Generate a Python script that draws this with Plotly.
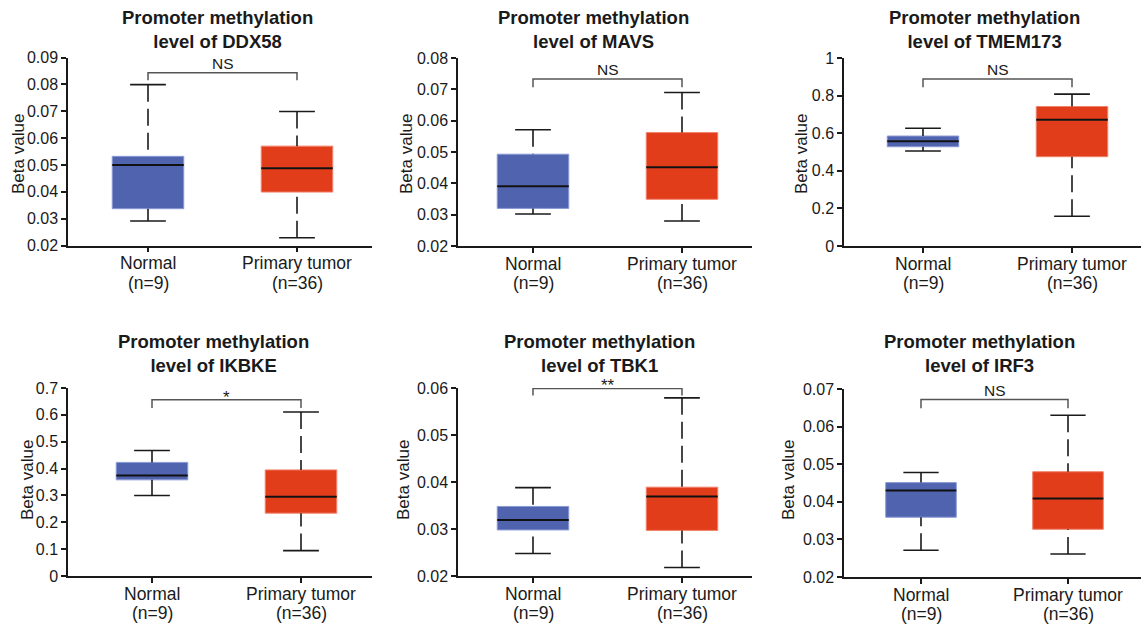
import plotly.graph_objects as go

W, H = 1141, 628

genes = ["DDX58", "MAVS", "TMEM173", "IKBKE", "TBK1", "IRF3"]
groups = ["Normal", "Primary tumor"]
group_n = ["(n=9)", "(n=36)"]
significance = ["NS", "NS", "NS", "*", "**", "NS"]

# per gene: [Normal, Primary tumor]
lower_whisker = [[0.0291, 0.0229], [0.0302, 0.0280], [0.505, 0.158],
                 [0.300, 0.0945], [0.0248, 0.0218], [0.0271, 0.0261]]
q1_vals = [[0.0337, 0.0399], [0.0320, 0.0349], [0.528, 0.475],
           [0.358, 0.234], [0.0298, 0.0297], [0.0359, 0.0327]]
median_vals = [[0.0500, 0.0488], [0.0391, 0.0451], [0.557, 0.671],
               [0.374, 0.295], [0.0319, 0.0369], [0.0430, 0.0409]]
q3_vals = [[0.0532, 0.0570], [0.0493, 0.0562], [0.585, 0.742],
           [0.423, 0.395], [0.0348, 0.0389], [0.0451, 0.0480]]
upper_whisker = [[0.0799, 0.0699], [0.0571, 0.0690], [0.626, 0.808],
                 [0.4675, 0.6105], [0.0388, 0.0579], [0.0478, 0.0630]]
bracket_top = [0.0843, 0.0733, 0.888, 0.6565, 0.0599, 0.0672]
bracket_leg = [0.0815, 0.0707, 0.845, 0.6254, 0.0584, 0.0649]

y_ticks = [
    [0.02, 0.03, 0.04, 0.05, 0.06, 0.07, 0.08, 0.09],
    [0.02, 0.03, 0.04, 0.05, 0.06, 0.07, 0.08],
    [0, 0.2, 0.4, 0.6, 0.8, 1],
    [0, 0.1, 0.2, 0.3, 0.4, 0.5, 0.6, 0.7],
    [0.02, 0.03, 0.04, 0.05, 0.06],
    [0.02, 0.03, 0.04, 0.05, 0.06, 0.07],
]
y_tick_text = [
    ["0.02", "0.03", "0.04", "0.05", "0.06", "0.07", "0.08", "0.09"],
    ["0.02", "0.03", "0.04", "0.05", "0.06", "0.07", "0.08"],
    ["0", "0.2", "0.4", "0.6", "0.8", "1"],
    ["0", "0.1", "0.2", "0.3", "0.4", "0.5", "0.6", "0.7"],
    ["0.02", "0.03", "0.04", "0.05", "0.06"],
    ["0.02", "0.03", "0.04", "0.05", "0.06", "0.07"],
]

# ---- layout geometry (pixels) ----
# axis left, axis right, normal centre, tumor centre, plot top, plot bottom
panel_px = [
    (68, 372, 148, 297, 57.5, 245.5),
    (458, 752, 533, 682, 58, 246),
    (844, 1141, 923, 1072, 58, 246),
    (68, 372, 152, 301, 388, 576),
    (458, 752, 533, 682, 388, 576),
    (844, 1141, 921, 1068, 389, 577),
]
title_px = [(217, 29), (593, 29), (984, 29), (213, 353), (599, 353), (979, 353)]
ytitle_px = [(18, 154), (406, 154), (801, 154), (27, 480), (403, 480), (788, 480)]
label_offsets = (17.5, 37.0)   # px below the x axis: group name, sample size

fill_colors = ["#4f63ae", "#e23d1b"]
edge_colors = ["#8b9ad6", "#f0826a"]
BOX_W = 0.48
CAP_W = 0.24
FONT = "Liberation Sans, Arial, Helvetica, sans-serif"
INK = "#1a1a1a"

fig = go.Figure()
layout_axes = {}
annotations = []

for p, gene in enumerate(genes):
    ax = "" if p == 0 else str(p + 1)
    xa, ya = "x" + ax, "y" + ax
    left, right, cn, ct, top, bot = panel_px[p]
    unit = ct - cn
    xr = [(left - cn) / unit, 1 + (right - ct) / unit]
    ymin, ymax = y_ticks[p][0], y_ticks[p][-1]

    for g in range(2):
        # box body
        fig.add_trace(go.Box(
            x=[g], q1=[q1_vals[p][g]], median=[median_vals[p][g]], q3=[q3_vals[p][g]],
            lowerfence=[q1_vals[p][g]], upperfence=[q3_vals[p][g]],
            width=BOX_W, fillcolor=fill_colors[g],
            line=dict(color=edge_colors[g], width=1), whiskerwidth=0,
            boxpoints=False, showlegend=False, hoverinfo="skip",
            xaxis=xa, yaxis=ya,
        ))
        # whiskers (dashed), drawn from cap toward the box
        for a, b in ((upper_whisker[p][g], q3_vals[p][g]), (lower_whisker[p][g], q1_vals[p][g])):
            fig.add_trace(go.Scatter(
                x=[g, g], y=[a, b], mode="lines",
                line=dict(color=INK, width=1.6, dash="17px,7px"),
                showlegend=False, hoverinfo="skip", xaxis=xa, yaxis=ya,
            ))
        # caps
        for v in (upper_whisker[p][g], lower_whisker[p][g]):
            fig.add_trace(go.Scatter(
                x=[g - CAP_W / 2, g + CAP_W / 2], y=[v, v], mode="lines",
                line=dict(color=INK, width=1.6),
                showlegend=False, hoverinfo="skip", xaxis=xa, yaxis=ya,
            ))
        # median
        fig.add_trace(go.Scatter(
            x=[g - BOX_W / 2, g + BOX_W / 2], y=[median_vals[p][g]] * 2, mode="lines",
            line=dict(color="#111111", width=2),
            showlegend=False, hoverinfo="skip", xaxis=xa, yaxis=ya,
        ))

        # category labels under the axis
        for txt, off in ((groups[g], label_offsets[0]), (group_n[g], label_offsets[1])):
            annotations.append(dict(
                x=g, y=0, xref=xa, yref=ya + " domain",
                text=txt, showarrow=False, xanchor="center", yanchor="middle",
                yshift=-off,
                font=dict(family=FONT, size=17.5, color=INK),
            ))

    # significance bracket
    fig.add_trace(go.Scatter(
        x=[0, 0, 1, 1],
        y=[bracket_leg[p], bracket_top[p], bracket_top[p], bracket_leg[p]],
        mode="lines", line=dict(color="#555555", width=1.5),
        showlegend=False, hoverinfo="skip", xaxis=xa, yaxis=ya, cliponaxis=False,
    ))
    star = significance[p] != "NS"
    annotations.append(dict(
        x=0.5, y=bracket_top[p], xref=xa, yref=ya, text=significance[p],
        showarrow=False, xanchor="center", yanchor="bottom",
        yshift=-9 if star else -1,
        font=dict(family=FONT, size=17 if star else 15.5, color=INK),
    ))

    layout_axes["xaxis" + ax] = dict(
        domain=[left / W, min(right / W, 1.0)], range=xr, anchor=ya,
        tickvals=[0, 1], showticklabels=False, automargin=False,
        showline=True, linecolor=INK, linewidth=1.5,
        ticks="outside", ticklen=5, tickwidth=1.5, tickcolor=INK,
        showgrid=False, zeroline=False, fixedrange=True,
    )
    layout_axes["yaxis" + ax] = dict(
        domain=[1 - bot / H, 1 - top / H], range=[ymin, ymax], anchor=xa,
        tickvals=y_ticks[p], ticktext=y_tick_text[p], automargin=False,
        tickfont=dict(family=FONT, size=16, color=INK),
        showline=True, linecolor=INK, linewidth=1.5,
        ticks="outside", ticklen=5, tickwidth=1.5, tickcolor=INK,
        showgrid=False, zeroline=False, fixedrange=True,
    )

    tx, ty = title_px[p]
    annotations.append(dict(
        x=tx / W, y=1 - ty / H, xref="paper", yref="paper",
        text=f"<b>Promoter methylation<br>level of {gene}</b>",
        showarrow=False, xanchor="center", yanchor="middle",
        font=dict(family=FONT, size=18.5, color=INK),
    ))
    yx, yy = ytitle_px[p]
    annotations.append(dict(
        x=yx / W, y=1 - yy / H, xref="paper", yref="paper",
        text="Beta value", textangle=-90,
        showarrow=False, xanchor="center", yanchor="middle",
        font=dict(family=FONT, size=17, color=INK),
    ))

fig.update_layout(
    template="none",
    width=W, height=H,
    margin=dict(l=0, r=0, t=0, b=0, pad=0, autoexpand=False),
    paper_bgcolor="white", plot_bgcolor="white",
    showlegend=False,
    annotations=annotations,
    **layout_axes,
)

fig.write_html(
    "out.html",
    config={"displayModeBar": False},
    post_script=(
        "document.body.style.margin='0';document.body.style.overflow='hidden';"
    ),
)
